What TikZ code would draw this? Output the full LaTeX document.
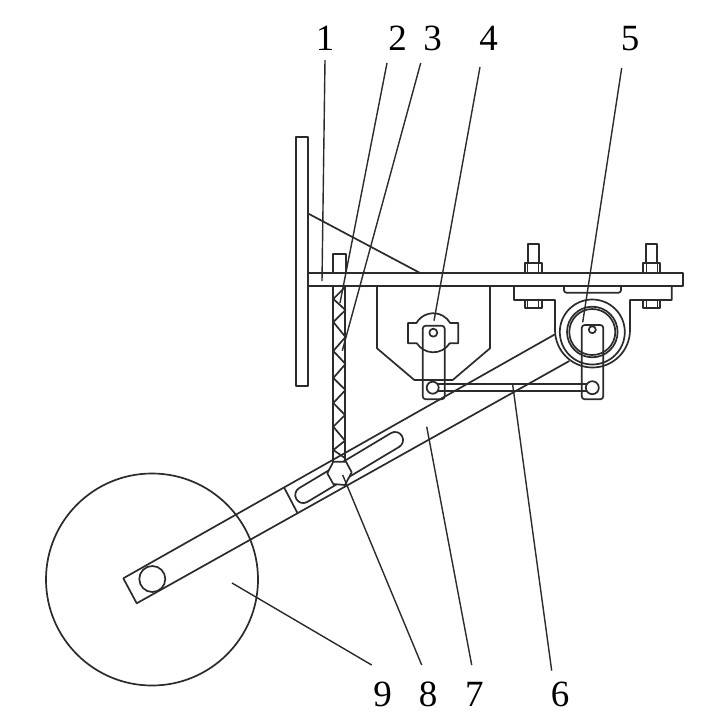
\documentclass[tikz,border=0pt]{standalone}
\usepackage{fontspec}
\setmainfont{Liberation Serif}
\definecolor{ink}{HTML}{2B2B2B}
\tikzset{
  part/.style={draw=ink,line width=1.7pt,line join=round},
  thin part/.style={draw=ink,line width=1.2pt},
  leader/.style={draw=ink,line width=1.4pt},
  numlabel/.style={anchor=base,inner sep=0pt,text=black,font=\fontsize{37}{40}\selectfont}
}
\begin{document}
\begin{tikzpicture}[x=1pt,y=-1pt]
\useasboundingbox (0,0) rectangle (709,717);
\fill[white] (0,0) rectangle (709,717);
% back plate and gusset
\draw[part] (296,137) rectangle (308.3,386);
\draw[part] (308.3,213.6) -- (420.7,273.3);
% horizontal plate
\draw[part] (308.3,273.3) -- (683,273.3) -- (683,286) -- (308.3,286);
% post
\draw[part] (333,273.3) -- (333,254.3) -- (345.7,254.3) -- (345.7,273.3);
\draw[part] (333.3,286) -- (333.3,461.7);
\draw[part] (345,286) -- (345,461.7);
\draw[part] (345.5,286.7) -- (333.3,299) -- (345.5,310) -- (333.3,322) -- (345.5,337) -- (333.3,351) -- (345.5,364) -- (333.3,378) -- (345.5,390) -- (333.3,403) -- (345,415) -- (333.3,426.7) -- (345,440.7) -- (333.3,450) -- (345,458);
% cover
\draw[part] (377,286) -- (377,348.3) -- (414.3,380) -- (452.7,380) -- (490,348.3) -- (490,286);
% pivot housing
\draw[part] (416.4,323) arc[start angle=150,end angle=30,radius=19.5pt] -- (458.3,323) -- (458.3,343.3) -- (449.7,343.3) arc[start angle=-32.6,end angle=-147.4,radius=19.5pt] -- (408,343.3) -- (408,323) -- cycle;
% left link and hole
\draw[part,rounded corners=3pt] (422.7,325.7) rectangle (444.7,399.3);
\draw[part] (433.3,332.7) circle[radius=4pt];
% right link
\draw[part,rounded corners=3pt] (581.7,325) rectangle (603.3,399.3);
\draw[part] (592.3,329.7) circle[radius=3.5pt];
% rod
\draw[part] (432.7,384.3) -- (592.3,384.3);
\draw[part] (432.7,391) -- (592.3,391);
\draw[part,fill=white] (432.7,387.7) circle[radius=6pt];
\draw[part,fill=white] (592.3,387.7) circle[radius=6.5pt];
% bearing circles
\draw[part] (592.3,332) circle[radius=32.5pt];
\draw[part] (592.3,332) circle[radius=25.3pt];
\draw[part] (592.3,332) circle[radius=23pt];
% right bracket
\draw[part] (514,286) -- (514,300) -- (555,300) -- (555,330) arc[start angle=180,end angle=360,radius=37.5pt] -- (630,300) -- (671.7,300) -- (671.7,286);
\draw[part,rounded corners=2.5pt] (564,286) -- (564,292.7) -- (621,292.7) -- (621,286);
% bolts
\foreach \cx in {533.3,651.7}{
  \draw[part] (\cx-5.5,263.3) -- (\cx-5.5,244.3) -- (\cx+5.5,244.3) -- (\cx+5.5,263.3);
  \draw[part] (\cx-8.5,273.3) -- (\cx-8.5,263.3) -- (\cx+8.5,263.3) -- (\cx+8.5,273.3);
  \draw[thin part] (\cx-5.5,263.3) -- (\cx-5.5,273.3) (\cx+5.5,263.3) -- (\cx+5.5,273.3);
  \draw[part] (\cx-8.5,300) -- (\cx-8.5,307.7) -- (\cx+8.5,307.7) -- (\cx+8.5,300);
  \draw[thin part] (\cx-5.5,300) -- (\cx-5.5,307.7) (\cx+5.5,300) -- (\cx+5.5,307.7);
}
% arm
\draw[part] (555,334.3) -- (123.3,578.3) -- (136.7,603.3) -- (569.3,361);
\draw[part] (284,487.3) -- (297.3,512.7);
% slot
\draw[part,rounded corners=7.9pt] (406,442.8) -- (397.8,429) -- (292.3,492.2) -- (300.5,506) -- cycle;
% hex nut
\draw[part,fill=white] (333.3,461.7) -- (346,461.7) -- (351.7,472.3) -- (345,485) -- (333.3,484) -- (327.3,473.3) -- cycle;
% wheel and axle
\draw[part] (152,579.5) circle[radius=106pt];
\draw[part] (152.3,579) circle[radius=13pt];
% labels
\node[numlabel] (n1) at (325,50.7) {1};
\node[numlabel] (n2) at (397.7,50.7) {2};
\node[numlabel] (n3) at (432.7,50.7) {3};
\node[numlabel] (n4) at (488.7,50.7) {4};
\node[numlabel] (n5) at (630,50.7) {5};
\node[numlabel] (n6) at (560,706.7) {6};
\node[numlabel] (n7) at (474.3,706.7) {7};
\node[numlabel] (n8) at (428,706.7) {8};
\node[numlabel] (n9) at (382.7,706.7) {9};
% leader ends
\coordinate (a1) at (325,60);   \coordinate (b1) at (322,281);
\coordinate (a2) at (387,63);   \coordinate (b2) at (340,303);
\coordinate (a3) at (420.7,63); \coordinate (b3) at (342.3,350.7);
\coordinate (a4) at (480,67);   \coordinate (b4) at (434,320.7);
\coordinate (a5) at (621.7,68); \coordinate (b5) at (582.7,322.3);
\coordinate (a6) at (551.7,670.7); \coordinate (b6) at (512.7,385);
\coordinate (a7) at (471.7,665); \coordinate (b7) at (426.7,426.7);
\coordinate (a8) at (421.7,665); \coordinate (b8) at (342.7,475);
\coordinate (a9) at (371.7,665); \coordinate (b9) at (232,583);
\foreach \i in {1,...,9}{ \draw[leader] (a\i) -- (b\i); }
\end{tikzpicture}
\end{document}
